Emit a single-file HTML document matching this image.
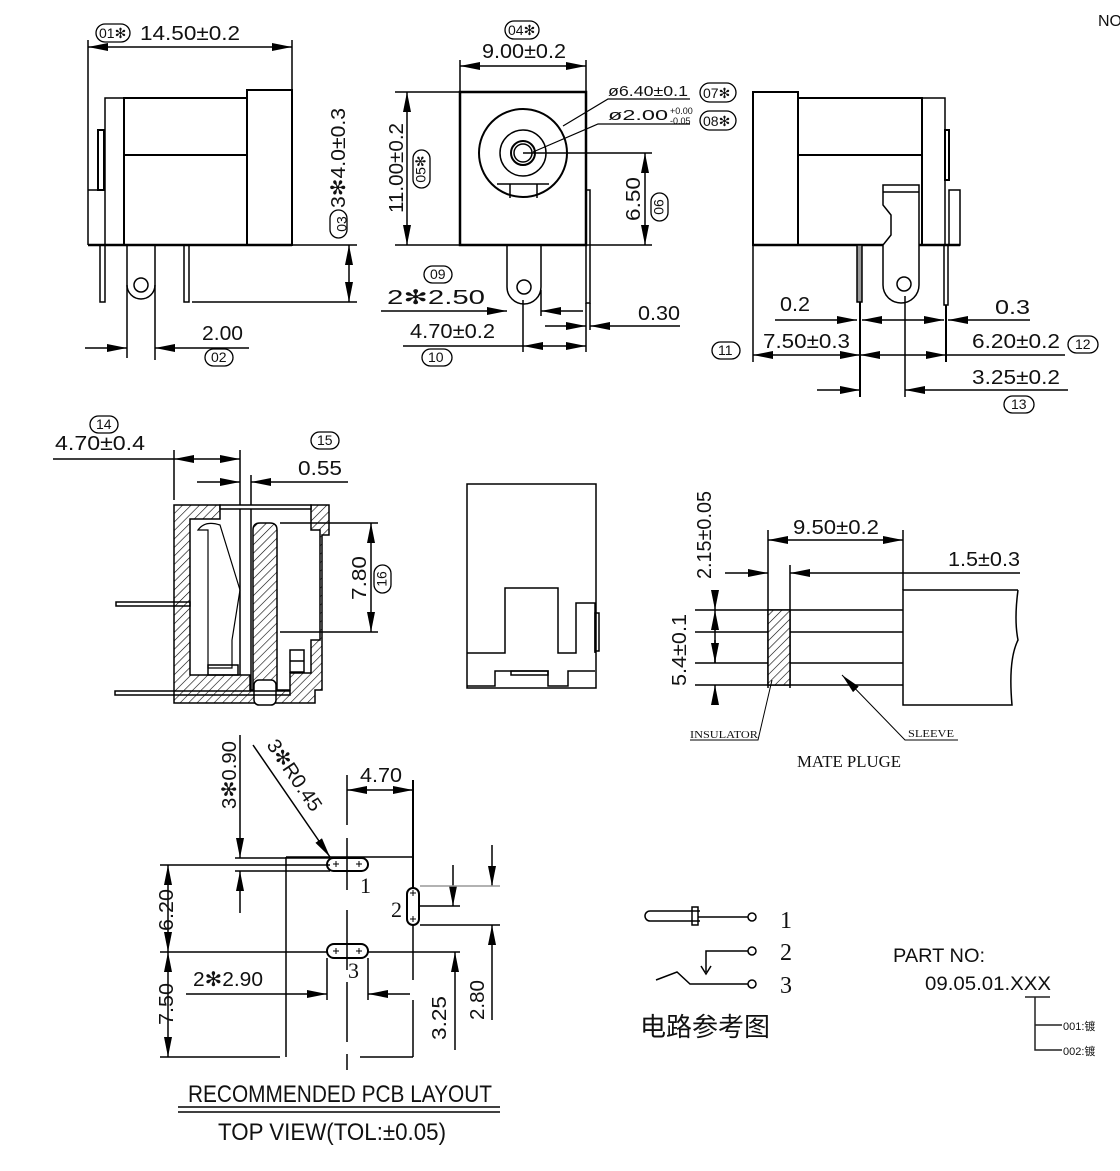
<!DOCTYPE html>
<html><head><meta charset="utf-8"><style>
html,body{margin:0;padding:0;background:#fff}
svg{display:block}
text{font-family:"Liberation Sans Narrow","Liberation Sans",sans-serif;fill:#111}
.s{font-family:"Liberation Serif",serif}
</style></head><body>
<svg width="1120" height="1171" viewBox="0 0 1120 1171" xmlns="http://www.w3.org/2000/svg">
<defs>
<marker id="a" viewBox="0 0 20 8" refX="20" refY="4" markerWidth="20" markerHeight="8" markerUnits="userSpaceOnUse" orient="auto-start-reverse"><path d="M0,0L20,4L0,8z" fill="#000"/></marker>
<pattern id="h" width="6" height="6" patternUnits="userSpaceOnUse" patternTransform="rotate(45)"><rect width="6" height="6" fill="#fff"/><line x1="0" y1="0" x2="0" y2="6" stroke="#000" stroke-width="1.2"/></pattern>
</defs>
<g fill="none" stroke="#000" stroke-width="1.5">
<!-- VIEW 1 -->
<line x1="88" y1="47" x2="292" y2="47" marker-start="url(#a)" marker-end="url(#a)"/>
<line x1="88" y1="40" x2="88" y2="245"/><line x1="292" y1="40" x2="292" y2="90"/>
<rect x="247" y="90" width="45" height="155" stroke-width="2"/>
<rect x="124" y="98" width="123" height="147" stroke-width="2"/>
<line x1="124" y1="155" x2="247" y2="155" stroke-width="2"/>
<rect x="105" y="98" width="19" height="147"/>
<rect x="98" y="130" width="6" height="60" stroke-width="2"/>
<line x1="88" y1="190" x2="105" y2="190"/>
<line x1="88" y1="245" x2="292" y2="245" stroke-width="2.5"/>
<rect x="100" y="245" width="5" height="57"/>
<rect x="184" y="245" width="5" height="57"/>
<path d="M127,245V285A14,14 0 0 0 155,285V245"/>
<circle cx="141" cy="285" r="7"/>
<line x1="127" y1="285" x2="127" y2="358"/><line x1="155" y1="285" x2="155" y2="360"/>
<line x1="192" y1="302" x2="357" y2="302"/><line x1="292" y1="245" x2="357" y2="245"/>
<line x1="349" y1="245" x2="349" y2="302" marker-start="url(#a)" marker-end="url(#a)"/>
<line x1="85" y1="348" x2="127" y2="348" marker-end="url(#a)"/>
<line x1="249" y1="348" x2="155" y2="348" marker-end="url(#a)"/>
<!-- VIEW 2 -->
<line x1="460" y1="66" x2="586" y2="66" marker-start="url(#a)" marker-end="url(#a)"/>
<line x1="460" y1="60" x2="460" y2="92"/><line x1="586" y1="60" x2="586" y2="92"/>
<rect x="460" y="92" width="126" height="153" stroke-width="2.5"/>
<circle cx="523" cy="153" r="44" stroke-width="2"/>
<circle cx="523" cy="153" r="23"/>
<circle cx="523" cy="153" r="12" stroke-width="2"/>
<circle cx="523" cy="153" r="9"/>
<line x1="510" y1="184" x2="510" y2="198"/><line x1="537" y1="184" x2="537" y2="198"/>
<line x1="497" y1="184" x2="549" y2="184"/>
<line x1="395" y1="92" x2="460" y2="92"/><line x1="395" y1="245" x2="460" y2="245"/>
<line x1="407" y1="92" x2="407" y2="245" marker-start="url(#a)" marker-end="url(#a)"/>
<line x1="523" y1="153" x2="652" y2="153"/><line x1="586" y1="245" x2="652" y2="245"/>
<line x1="645" y1="153" x2="645" y2="245" marker-start="url(#a)" marker-end="url(#a)"/>
<path d="M563,126L608,99H690" stroke-width="1.2"/>
<path d="M533,152L598,124H690" stroke-width="1.2"/>
<path d="M507,245V287A15,15 0 0 0 541,287V245"/>
<circle cx="524" cy="287" r="7"/>
<rect x="586" y="190" width="4" height="113"/>
<line x1="381" y1="311" x2="507" y2="311" marker-end="url(#a)"/>
<line x1="583" y1="311" x2="541" y2="311" marker-end="url(#a)"/>
<line x1="541" y1="290" x2="541" y2="316"/>
<line x1="545" y1="326" x2="586" y2="326" marker-end="url(#a)"/>
<line x1="680" y1="326" x2="590" y2="326" marker-end="url(#a)"/>
<line x1="586" y1="303" x2="586" y2="352"/><line x1="590" y1="303" x2="590" y2="330"/>
<line x1="523" y1="300" x2="523" y2="352"/>
<line x1="403" y1="346" x2="523" y2="346"/>
<line x1="523" y1="346" x2="586" y2="346" marker-start="url(#a)" marker-end="url(#a)"/>
<!-- VIEW 3 -->
<rect x="753" y="92" width="45" height="153" stroke-width="2"/>
<rect x="798" y="98" width="124" height="147" stroke-width="2"/>
<line x1="798" y1="155" x2="922" y2="155" stroke-width="2"/>
<rect x="922" y="98" width="23" height="147"/>
<rect x="945" y="130" width="4" height="50" stroke-width="2"/>
<rect x="949" y="190" width="11" height="55"/>
<line x1="753" y1="245" x2="960" y2="245" stroke-width="2.5"/>
<path d="M883,185H919V285A18,18 0 0 1 883,285V245L891,235V215L883,205Z" fill="#fff"/>
<line x1="883" y1="192" x2="919" y2="192"/>
<circle cx="904" cy="284" r="7"/>
<rect x="857" y="245" width="5" height="57" fill="#999"/>
<rect x="944" y="245" width="4" height="60"/>
<line x1="753" y1="245" x2="753" y2="362"/>
<line x1="860" y1="302" x2="860" y2="397" stroke-width="2"/>
<line x1="946" y1="305" x2="946" y2="362" stroke-width="2"/>
<line x1="905" y1="296" x2="905" y2="397"/>
<line x1="775" y1="320" x2="857" y2="320" marker-end="url(#a)"/>
<line x1="880" y1="320" x2="862" y2="320" marker-end="url(#a)"/>
<line x1="880" y1="320" x2="944" y2="320" marker-end="url(#a)"/>
<line x1="1030" y1="320" x2="948" y2="320" marker-end="url(#a)"/>
<line x1="753" y1="355" x2="860" y2="355" marker-start="url(#a)" marker-end="url(#a)"/>
<line x1="860" y1="355" x2="946" y2="355" marker-start="url(#a)" marker-end="url(#a)"/>
<line x1="946" y1="355" x2="1065" y2="355"/>
<line x1="817" y1="390" x2="860" y2="390" marker-end="url(#a)"/>
<line x1="1068" y1="390" x2="905" y2="390" marker-end="url(#a)"/>
<!-- SECTION -->
<line x1="53" y1="459" x2="174" y2="459"/>
<line x1="174" y1="459" x2="240" y2="459" marker-start="url(#a)" marker-end="url(#a)"/>
<line x1="174" y1="450" x2="174" y2="500"/><line x1="240" y1="450" x2="240" y2="690"/>
<line x1="197" y1="482" x2="240" y2="482" marker-end="url(#a)"/>
<line x1="348" y1="482" x2="251" y2="482" marker-end="url(#a)"/>
<line x1="251" y1="475" x2="251" y2="690"/>
<path d="M174,505H220V519H190V675H250V690H290V673H311V640H320V530H311V505H329V535H322V690H315V703H174Z" fill="url(#h)" stroke-width="1.5"/>
<rect x="220" y="505" width="91" height="4" fill="#fff"/>
<path d="M253,530Q253,523 260,523H270Q277,523 277,530V690H253Z" fill="url(#h)"/>
<path d="M198,530Q205,520 220,525L240,590L232,640V668H208V530Z" stroke-width="1.2"/>
<rect x="208" y="665" width="30" height="10"/>
<rect x="290" y="650" width="14" height="22" fill="#fff"/>
<line x1="290" y1="661" x2="304" y2="661"/>
<rect x="254" y="680" width="22" height="25" rx="5" fill="#fff"/>
<line x1="280" y1="523" x2="378" y2="523"/><line x1="280" y1="632" x2="378" y2="632"/>
<line x1="371" y1="523" x2="371" y2="632" marker-start="url(#a)" marker-end="url(#a)"/>
<rect x="116" y="602" width="74" height="4"/>
<rect x="115" y="691" width="175" height="4"/>
<!-- FRONT -->
<rect x="467" y="484" width="129" height="204"/>
<path d="M467,653H505V588H558V653H576V603H595V653"/>
<rect x="595" y="613" width="4" height="38"/>
<path d="M467,686H495V671H548V686H568V671H595"/>
<rect x="511" y="671" width="37" height="4"/>
<!-- MATE PLUG -->
<line x1="768" y1="530" x2="768" y2="688"/><line x1="790" y1="565" x2="790" y2="688"/>
<line x1="903" y1="530" x2="903" y2="590"/>
<line x1="768" y1="540" x2="903" y2="540" marker-start="url(#a)" marker-end="url(#a)"/>
<line x1="725" y1="573" x2="768" y2="573" marker-end="url(#a)"/>
<line x1="1020" y1="573" x2="790" y2="573" marker-end="url(#a)"/>
<path d="M1018,590H903V705H1012Q1008,660 1018,640Q1014,620 1018,590"/>
<line x1="695" y1="610" x2="903" y2="610"/><line x1="695" y1="632" x2="903" y2="632"/>
<line x1="695" y1="663" x2="903" y2="663"/><line x1="695" y1="685" x2="903" y2="685"/>
<rect x="768" y="610" width="22" height="75" fill="url(#h)"/>
<line x1="715" y1="590" x2="715" y2="610" marker-end="url(#a)"/>
<line x1="715" y1="632" x2="715" y2="610" marker-end="url(#a)"/>
<line x1="715" y1="632" x2="715" y2="663"/>
<line x1="715" y1="640" x2="715" y2="663" marker-end="url(#a)"/>
<line x1="715" y1="705" x2="715" y2="685" marker-end="url(#a)"/>
<path d="M690,740H758L772,680" stroke-width="1"/>
<path d="M958,740H905L842,675" stroke-width="1" marker-end="url(#a)"/>
<!-- PCB -->
<line x1="240" y1="735" x2="240" y2="858" marker-end="url(#a)"/>
<line x1="240" y1="913" x2="240" y2="871" marker-end="url(#a)"/>
<line x1="235" y1="858" x2="330" y2="858"/><line x1="235" y1="871" x2="330" y2="871"/>
<line x1="253" y1="745" x2="330" y2="857" marker-end="url(#a)"/>
<line x1="286" y1="857" x2="412" y2="857"/>
<rect x="327" y="858" width="41" height="13" rx="6.5" stroke-width="2"/>
<rect x="327" y="944" width="41" height="14" rx="7" stroke-width="2"/>
<rect x="407" y="888" width="12" height="37" rx="6" stroke-width="2"/>
<path d="M333,864h6M336,861v6M356,864h6M359,861v6M333,951h6M336,948v6M356,951h6M359,948v6M410,893h6M413,890v6M410,919h6M413,916v6" stroke-width="1"/>
<line x1="347" y1="838" x2="347" y2="890"/><line x1="347" y1="910" x2="347" y2="1070" stroke-dasharray="60,12"/>
<line x1="347" y1="775" x2="347" y2="825"/>
<line x1="413" y1="780" x2="413" y2="888" stroke-width="2"/>
<line x1="413" y1="925" x2="413" y2="980"/><line x1="413" y1="1000" x2="413" y2="1057"/>
<line x1="347" y1="790" x2="413" y2="790" marker-start="url(#a)" marker-end="url(#a)"/>
<line x1="168" y1="865" x2="168" y2="952" marker-start="url(#a)" marker-end="url(#a)"/>
<line x1="168" y1="952" x2="168" y2="1057" marker-start="url(#a)" marker-end="url(#a)"/>
<line x1="160" y1="865" x2="330" y2="865"/>
<line x1="160" y1="952" x2="327" y2="952"/><line x1="368" y1="952" x2="460" y2="952"/>
<line x1="160" y1="1057" x2="280" y2="1057"/><line x1="360" y1="1057" x2="413" y2="1057"/>
<line x1="286" y1="857" x2="286" y2="1057"/>
<line x1="327" y1="958" x2="327" y2="1000"/><line x1="368" y1="958" x2="368" y2="1000"/>
<line x1="186" y1="994" x2="327" y2="994" marker-end="url(#a)"/>
<line x1="410" y1="994" x2="368" y2="994" marker-end="url(#a)"/>
<line x1="455" y1="1050" x2="455" y2="952" marker-end="url(#a)"/>
<line x1="492" y1="845" x2="492" y2="886" marker-end="url(#a)"/>
<line x1="492" y1="1020" x2="492" y2="925" marker-end="url(#a)"/>
<line x1="453" y1="865" x2="453" y2="906" marker-end="url(#a)"/>
<line x1="420" y1="886" x2="500" y2="886" stroke="#999"/>
<line x1="420" y1="906" x2="460" y2="906"/><line x1="420" y1="925" x2="500" y2="925"/>
<line x1="178" y1="1107" x2="500" y2="1107"/><line x1="178" y1="1112" x2="500" y2="1112"/>
<!-- CIRCUIT -->
<path d="M700,911H650A4,4 0 0 0 650,921H700" stroke-width="1.5"/>
<rect x="692" y="907" width="6" height="18"/>
<line x1="698" y1="917" x2="748" y2="917"/><circle cx="752" cy="917" r="4"/>
<path d="M706,972V951H748"/><circle cx="752" cy="951" r="4"/>
<path d="M701,966L706,974L711,966"/>
<path d="M656,980L677,972L690,984H748"/><circle cx="752" cy="984" r="4"/>
<path d="M1025,997H1050M1035,997V1050H1062M1035,1025H1062" stroke="#222"/>
</g>
<!-- bubbles -->
<g fill="none" stroke="#000" stroke-width="1.3">
<rect x="96" y="24" width="34" height="18" rx="9"/>
<rect x="505" y="21" width="34" height="18" rx="9"/>
<rect x="700" y="83" width="36" height="19" rx="9.5"/>
<rect x="700" y="111" width="36" height="19" rx="9.5"/>
<rect x="205" y="349" width="28" height="17" rx="8.5"/>
<rect x="424" y="266" width="28" height="17" rx="8.5"/>
<rect x="422" y="349" width="30" height="17" rx="8.5"/>
<rect x="330" y="210" width="17" height="28" rx="8.5"/>
<rect x="413" y="150" width="17" height="38" rx="8.5"/>
<rect x="651" y="193" width="17" height="28" rx="8.5"/>
<rect x="712" y="342" width="28" height="17" rx="8.5"/>
<rect x="1068" y="336" width="30" height="17" rx="8.5"/>
<rect x="1004" y="396" width="30" height="17" rx="8.5"/>
<rect x="90" y="416" width="28" height="17" rx="8.5"/>
<rect x="311" y="432" width="28" height="17" rx="8.5"/>
<rect x="374" y="565" width="17" height="28" rx="8.5"/>
</g>
<g font-size="14" fill="#444">
<text x="99" y="38">01✻</text><text x="508" y="35">04✻</text>
<text x="703" y="98">07✻</text><text x="703" y="126">08✻</text>
<text x="211" y="362">02</text><text x="430" y="279">09</text><text x="428" y="362">10</text>
<text x="718" y="355">11</text><text x="1075" y="349">12</text><text x="1011" y="409">13</text>
<text x="96" y="429">14</text><text x="317" y="445">15</text>
<text transform="translate(343,224) rotate(-90)" text-anchor="middle" dominant-baseline="middle">03</text>
<text transform="translate(422,169) rotate(-90)" text-anchor="middle" dominant-baseline="middle">05✻</text>
<text transform="translate(660,207) rotate(-90)" text-anchor="middle" dominant-baseline="middle">06</text>
<text transform="translate(383,579) rotate(-90)" text-anchor="middle" dominant-baseline="middle">16</text>
</g>
<!-- dimension text -->
<g font-size="20">
<text x="140" y="40" textLength="100" lengthAdjust="spacingAndGlyphs">14.50±0.2</text>
<text x="482" y="58" textLength="84" lengthAdjust="spacingAndGlyphs">9.00±0.2</text>
<text x="202" y="340" textLength="41" lengthAdjust="spacingAndGlyphs">2.00</text>
<text x="387" y="304" textLength="98" lengthAdjust="spacingAndGlyphs">2✻2.50</text>
<text x="638" y="320" textLength="42" lengthAdjust="spacingAndGlyphs">0.30</text>
<text x="410" y="338" textLength="85" lengthAdjust="spacingAndGlyphs">4.70±0.2</text>
<text x="780" y="311" textLength="30" lengthAdjust="spacingAndGlyphs">0.2</text>
<text x="995" y="314" textLength="35" lengthAdjust="spacingAndGlyphs">0.3</text>
<text x="763" y="348" textLength="87" lengthAdjust="spacingAndGlyphs">7.50±0.3</text>
<text x="972" y="348" textLength="88" lengthAdjust="spacingAndGlyphs">6.20±0.2</text>
<text x="972" y="384" textLength="88" lengthAdjust="spacingAndGlyphs">3.25±0.2</text>
<text x="55" y="450" textLength="90" lengthAdjust="spacingAndGlyphs">4.70±0.4</text>
<text x="298" y="475" textLength="44" lengthAdjust="spacingAndGlyphs">0.55</text>
<text x="793" y="534" textLength="86" lengthAdjust="spacingAndGlyphs">9.50±0.2</text>
<text x="948" y="566" textLength="72" lengthAdjust="spacingAndGlyphs">1.5±0.3</text>
<text x="360" y="782" textLength="42" lengthAdjust="spacingAndGlyphs">4.70</text>
<text x="193" y="986" textLength="70" lengthAdjust="spacingAndGlyphs">2✻2.90</text>
<text transform="translate(345,158) rotate(-90)" text-anchor="middle" textLength="100" lengthAdjust="spacingAndGlyphs">3✻4.0±0.3</text>
<text transform="translate(403,168) rotate(-90)" text-anchor="middle" textLength="90" lengthAdjust="spacingAndGlyphs">11.00±0.2</text>
<text transform="translate(640,199) rotate(-90)" text-anchor="middle" textLength="44" lengthAdjust="spacingAndGlyphs">6.50</text>
<text transform="translate(366,578) rotate(-90)" text-anchor="middle" textLength="44" lengthAdjust="spacingAndGlyphs">7.80</text>
<text transform="translate(711,535) rotate(-90)" text-anchor="middle" textLength="88" lengthAdjust="spacingAndGlyphs">2.15±0.05</text>
<text transform="translate(686,650) rotate(-90)" text-anchor="middle" textLength="72" lengthAdjust="spacingAndGlyphs">5.4±0.1</text>
<text transform="translate(236,775) rotate(-90)" text-anchor="middle" textLength="68" lengthAdjust="spacingAndGlyphs">3✻0.90</text>
<text transform="translate(266,745) rotate(56)" textLength="82" lengthAdjust="spacingAndGlyphs">3✻R0.45</text>
<text transform="translate(173,910) rotate(-90)" text-anchor="middle" textLength="42" lengthAdjust="spacingAndGlyphs">6.20</text>
<text transform="translate(173,1004) rotate(-90)" text-anchor="middle" textLength="42" lengthAdjust="spacingAndGlyphs">7.50</text>
<text transform="translate(446,1018) rotate(-90)" text-anchor="middle" textLength="44" lengthAdjust="spacingAndGlyphs">3.25</text>
<text transform="translate(484,1000) rotate(-90)" text-anchor="middle" textLength="40" lengthAdjust="spacingAndGlyphs">2.80</text>
</g>
<g font-size="15">
<text x="608" y="96" textLength="80" lengthAdjust="spacingAndGlyphs">ø6.40±0.1</text>
<text x="608" y="120" textLength="60" lengthAdjust="spacingAndGlyphs">ø2.00</text>
<text x="670" y="114" font-size="9">+0.00</text>
<text x="670" y="124" font-size="9">-0.05</text>
</g>
<text x="1098" y="26" font-size="16" fill="#777">NO</text>
<text class="s" x="690" y="738" font-size="10" textLength="68" lengthAdjust="spacingAndGlyphs">INSULATOR</text>
<text class="s" x="908" y="737" font-size="10" textLength="46" lengthAdjust="spacingAndGlyphs">SLEEVE</text>
<text class="s" x="797" y="767" font-size="17" textLength="104" lengthAdjust="spacingAndGlyphs">MATE PLUGE</text>
<text class="s" x="360" y="893" font-size="22">1</text>
<text class="s" x="391" y="917" font-size="22">2</text>
<text class="s" x="348" y="978" font-size="22">3</text>
<text x="188" y="1102" font-size="24" fill="#555" textLength="304" lengthAdjust="spacingAndGlyphs">RECOMMENDED PCB LAYOUT</text>
<text x="218" y="1140" font-size="24" fill="#555" textLength="228" lengthAdjust="spacingAndGlyphs">TOP VIEW(TOL:±0.05)</text>
<text class="s" x="780" y="928" font-size="24">1</text>
<text class="s" x="780" y="960" font-size="24">2</text>
<text class="s" x="780" y="993" font-size="24">3</text>
<text x="640" y="1036" font-size="26" style='font-family:"Noto Sans CJK SC",sans-serif'>电路参考图</text>
<text x="893" y="962" font-size="19" fill="#666" textLength="92" lengthAdjust="spacingAndGlyphs">PART NO:</text>
<text x="925" y="990" font-size="19" fill="#666" textLength="126" lengthAdjust="spacingAndGlyphs">09.05.01.XXX</text>
<text x="1063" y="1030" font-size="11" fill="#555">001:镀</text>
<text x="1063" y="1055" font-size="11" fill="#555">002:镀</text>
</svg>
</body></html>
